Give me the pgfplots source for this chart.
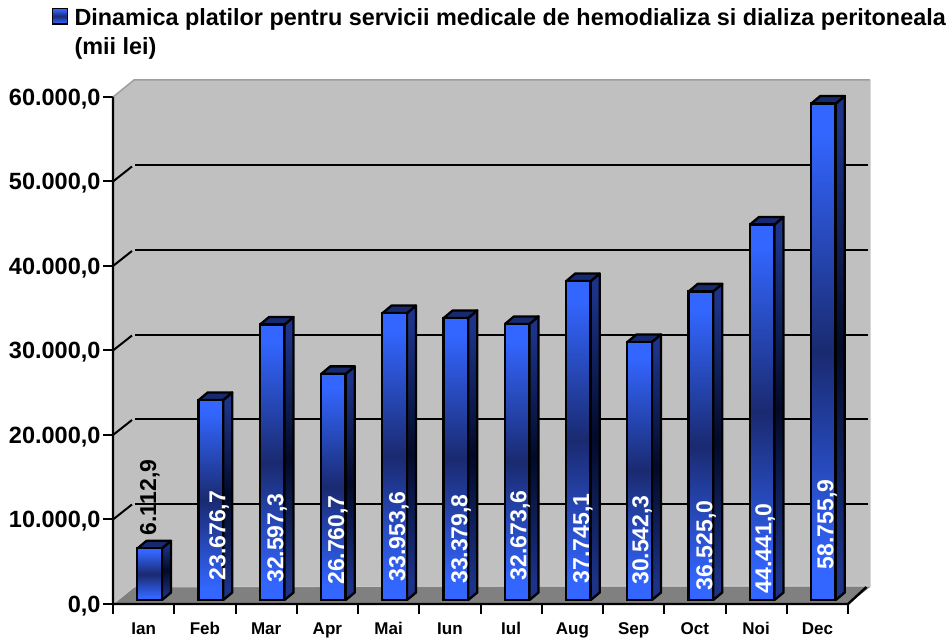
\documentclass[border=0pt]{standalone}
\usepackage{pgfplots}
\usepackage{fontspec}
\setmainfont{Liberation Sans}
\pgfplotsset{compat=1.18}
\definecolor{wall}{HTML}{C0C0C0}
\definecolor{floorc}{HTML}{808080}
\definecolor{bright}{HTML}{3366FF}
\definecolor{middark}{HTML}{1A2A70}
\definecolor{sideb}{HTML}{1C3388}
\definecolor{sidem}{HTML}{020A28}
\definecolor{topc}{HTML}{172A70}
\pgfdeclareverticalshading{barfront}{100bp}{color(0bp)=(bright); color(28bp)=(bright); color(50bp)=(middark); color(72bp)=(bright); color(100bp)=(bright)}
\pgfdeclareverticalshading{barside}{100bp}{color(0bp)=(sideb); color(28bp)=(sideb); color(50bp)=(sidem); color(72bp)=(sideb); color(100bp)=(sideb)}
\pgfplotsset{frontbar/.style={ybar,bar width=24.5pt,bar shift=0pt,xshift=5.9pt,yshift=4pt,shade,shading=barfront,draw=black,line width=2.3pt}}
% xL xR xLback xRback yTop yTopBack
\newcommand\BarFaces[6]{%
  \addplot[forget plot,shade,shading=barside,draw=black,line width=2.3pt,line join=round]
    coordinates {(#2,473) (#4,1361) (#4,#6) (#2,#5) (#2,473)};
  \addplot[forget plot,fill=topc,draw=black,line width=2.3pt,line join=round]
    coordinates {(#1,#5) (#2,#5) (#4,#6) (#3,#6) (#1,#5)};
}
\begin{document}
\begin{tikzpicture}
\path[use as bounding box] (0,0) rectangle (950pt,637pt);
\begin{axis}[
  at={(113pt,33pt)},anchor=south west,
  scale only axis,width=757pt,height=524pt,
  xmin=0,xmax=12.359,ymin=0,ymax=62012,
  clip=false,
  axis lines=left,
  axis line style={draw=none,-},
  tick align=outside,
  major tick length=10pt,
  tick style={black,line width=2pt},
  scaled y ticks=false,
  xtick={0,1,2,3,4,5,6,7,8,9,10,11,12},
  xticklabels={},
  extra x ticks={0.5,1.5,2.5,3.5,4.5,5.5,6.5,7.5,8.5,9.5,10.5,11.5},
  extra x tick labels={Ian,Feb,Mar,Apr,Mai,Iun,Iul,Aug,Sep,Oct,Noi,Dec},
  extra x tick style={major tick length=0pt,
    tick label style={font=\fontsize{17}{17}\selectfont\bfseries,text height=12pt,text depth=0pt,yshift=-15pt}},
  ytick={0,10000,20000,30000,40000,50000,60000},
  yticklabels={{0,0},{10.000,0},{20.000,0},{30.000,0},{40.000,0},{50.000,0},{60.000,0}},
  y tick label style={font=\fontsize{23.5}{23.5}\selectfont\bfseries,xshift=1pt,yshift=-2pt},
  legend style={at={(-0.0733,1.1507)},anchor=north west,draw=none,fill=none,
    font=\fontsize{23.4}{29}\selectfont\bfseries,inner sep=0pt,outer sep=0pt},
  legend cell align=left,
  legend image code/.code={%
    \pgfpathrectangle{\pgfpoint{-6pt}{-2pt}}{\pgfpoint{15pt}{15pt}}\pgfusepath{use as bounding box}%
    \draw[shade,shading=barfront,draw=black,line width=1.5pt] (-11pt,-10pt) rectangle (4pt,5.5pt);},
]
% walls and floor
\addplot[forget plot,fill=wall,draw=none] coordinates {(0,0) (0,60000) (0.343,62012) (12.359,62012) (12.359,2012) (12,0) (0,0)};
\addplot[forget plot,fill=floorc,draw=none] coordinates {(0,0) (12,0) (12.359,2012) (0.343,2012) (0,0)};
\addplot[forget plot,draw=black!38,line width=1.5pt] coordinates {(0,60000) (0.343,62012) (12.359,62012)};
\addplot[forget plot,draw=black!15,line width=1pt] coordinates {(12.359,62012) (12.359,2012)};
\addplot[forget plot,draw=black!22,line width=1pt] coordinates {(0,0) (0.343,2012) (12.359,2250)};
% gridlines
\addplot[forget plot,black,line width=2pt] coordinates {(0,10000) (0.31,11775)};
\addplot[forget plot,black,line width=2pt] coordinates {(0,20000) (0.31,21775)};
\addplot[forget plot,black,line width=2pt] coordinates {(0,30000) (0.31,31775)};
\addplot[forget plot,black,line width=2pt] coordinates {(0,40000) (0.31,41775)};
\addplot[forget plot,black,line width=2pt] coordinates {(0,50000) (0.31,51775)};
\addplot[forget plot,black,line width=2pt] coordinates {(0.359,11893) (12.327,11893)};
\addplot[forget plot,black,line width=2pt] coordinates {(0.359,21893) (12.327,21893)};
\addplot[forget plot,black,line width=2pt] coordinates {(0.359,31893) (12.327,31893)};
\addplot[forget plot,black,line width=2pt] coordinates {(0.359,41893) (12.327,41893)};
\addplot[forget plot,black,line width=2pt] coordinates {(0.359,51893) (12.327,51893)};
% axis lines
\addplot[forget plot,black,line width=2.4pt] coordinates {(0,60000) (0,0) (12,0) (12.3,2000)};
% bar depth faces
\BarFaces{0.4}{0.8}{0.547}{0.947}{6585.9}{7473.9}
\BarFaces{1.4}{1.8}{1.547}{1.947}{24149.7}{25037.7}
\BarFaces{2.4}{2.8}{2.547}{2.947}{33070.3}{33958.3}
\BarFaces{3.4}{3.8}{3.547}{3.947}{27233.7}{28121.7}
\BarFaces{4.4}{4.8}{4.547}{4.947}{34426.6}{35314.6}
\BarFaces{5.4}{5.8}{5.547}{5.947}{33852.8}{34740.8}
\BarFaces{6.4}{6.8}{6.547}{6.947}{33146.6}{34034.6}
\BarFaces{7.4}{7.8}{7.547}{7.947}{38218.1}{39106.1}
\BarFaces{8.4}{8.8}{8.547}{8.947}{31015.3}{31903.3}
\BarFaces{9.4}{9.8}{9.547}{9.947}{36998}{37886}
\BarFaces{10.4}{10.8}{10.547}{10.947}{44914}{45802}
\BarFaces{11.4}{11.8}{11.547}{11.947}{59228.9}{60116.9}
% bar front faces, one plot per bar so that each has its own gradient
\addplot[frontbar] coordinates {(0.5,6112.9)};
\addlegendentry{\parbox[t]{885pt}{Dinamica platilor pentru servicii medicale de hemodializa si dializa peritoneala\\(mii lei)}}
\addplot[frontbar,forget plot] coordinates {(1.5,23676.7)};
\addplot[frontbar,forget plot] coordinates {(2.5,32597.3)};
\addplot[frontbar,forget plot] coordinates {(3.5,26760.7)};
\addplot[frontbar,forget plot] coordinates {(4.5,33953.6)};
\addplot[frontbar,forget plot] coordinates {(5.5,33379.8)};
\addplot[frontbar,forget plot] coordinates {(6.5,32673.6)};
\addplot[frontbar,forget plot] coordinates {(7.5,37745.1)};
\addplot[frontbar,forget plot] coordinates {(8.5,30542.3)};
\addplot[frontbar,forget plot] coordinates {(9.5,36525.0)};
\addplot[frontbar,forget plot] coordinates {(10.5,44441.0)};
\addplot[frontbar,forget plot] coordinates {(11.5,58755.9)};
% value labels
\addplot[forget plot,draw=none,mark=none,nodes near coords,point meta=explicit symbolic,
  nodes near coords align={center},
  every node near coord/.append style={rotate=90,black,inner sep=0pt,font=\fontsize{23}{23}\selectfont\bfseries}]
  table[x=x,y=y,meta=label] {
x y label
0.604 12604 6.112,9
};
\addplot[forget plot,draw=none,mark=none,nodes near coords,point meta=explicit symbolic,
  nodes near coords align={center},
  every node near coord/.append style={rotate=90,white,inner sep=0pt,font=\fontsize{23}{23}\selectfont\bfseries}]
  table[x=x,y=y,meta=label] {
x y label
1.731 8083 23.676,7
2.678 7811 32.597,3
3.673 7574 26.760,7
4.669 7988 33.953,6
5.682 7692 33.379,8
6.645 8107 32.673,6
7.673 7751 37.745,1
8.637 7574 30.542,3
9.682 6923 36.525,0
10.645 6568 44.441,0
11.657 9408 58.755,9
};
\end{axis}
\end{tikzpicture}
\end{document}
